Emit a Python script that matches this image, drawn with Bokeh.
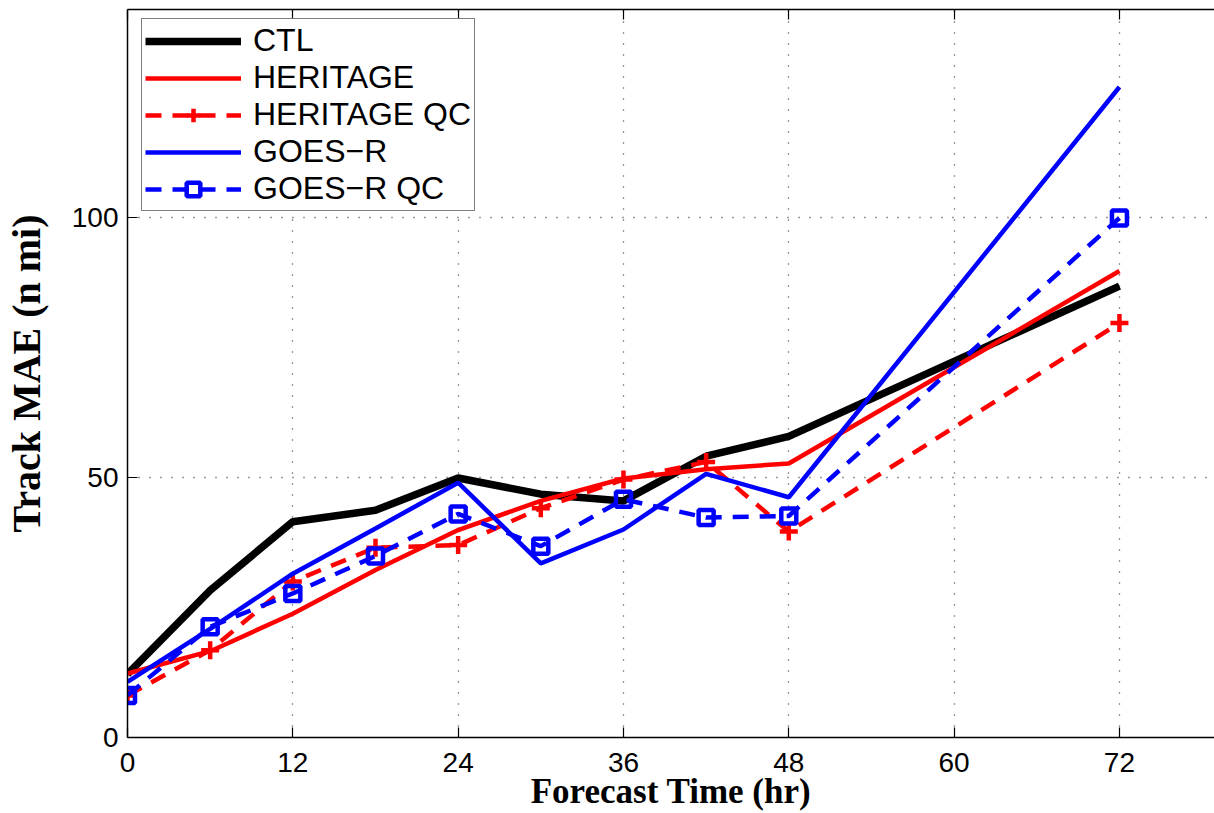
import bokeh.plotting as bk
from bokeh.models import Range1d, Legend, LegendItem, LinearAxis, FixedTicker
from bokeh.embed import file_html
from bokeh.resources import INLINE

#- forecast hours and track errors (n mi)
hours = [0, 6, 12, 18, 24, 30, 36, 42, 48, 72]
ctl = [12.2, 28.3, 41.5, 43.7, 49.9, 46.8, 45.5, 54.1, 57.9, 86.8]
heritage = [12.3, 16.6, 23.8, 32.2, 39.9, 45.5, 49.8, 51.6, 52.7, 89.7]
heritage_qc = [8.1, 16.8, 30.0, 36.5, 37.0, 44.1, 49.6, 53.0, 39.6, 79.7]
goesr = [10.7, 20.9, 31.5, 40.2, 49.0, 33.5, 40.0, 50.7, 46.2, 125.1]
goesr_qc = [8.1, 21.3, 27.7, 34.9, 43.0, 36.8, 45.8, 42.3, 42.6, 99.9]

x_ticks = [0, 12, 24, 36, 48, 60, 72]
y_ticks = [0, 50, 100]

sans = "Liberation Sans"
serif = "Liberation Serif"

p = bk.figure(width=1214, height=813, output_backend="svg", toolbar_location=None,
              x_range=Range1d(0, 78.9), y_range=Range1d(0, 140),
              min_border_left=126, min_border_right=0, min_border_top=9,
              min_border_bottom=76)
p.outline_line_color = None
p.background_fill_color = "white"

#- axes, MATLAB style: ticks pointing in
for ax in (p.xaxis[0], p.yaxis[0]):
    ax.major_tick_in = 10
    ax.major_tick_out = 0
    ax.minor_tick_line_color = None
    ax.axis_line_width = 1.5
    ax.major_tick_line_width = 1.2
    ax.major_label_text_font = sans
    ax.major_label_text_font_size = "28px"
    ax.major_label_text_color = "black"
    ax.axis_label_text_font = serif
    ax.axis_label_text_font_style = "bold"
    ax.axis_label_text_color = "black"

p.xaxis.ticker = FixedTicker(ticks=x_ticks)
p.yaxis.ticker = FixedTicker(ticks=y_ticks)
p.xaxis.major_label_standoff = 15
p.yaxis.major_label_standoff = 9
p.xaxis.axis_label = "Forecast Time (hr)"
p.yaxis.axis_label = "Track MAE (n mi)"
p.xaxis.axis_label_text_font_size = "35px"
p.yaxis.axis_label_text_font_size = "40px"
p.xaxis.axis_label_standoff = -3
p.yaxis.axis_label_standoff = 20

#- top border with ticks, no labels
top_axis = LinearAxis(ticker=FixedTicker(ticks=x_ticks), major_tick_in=10, major_tick_out=0,
                      minor_tick_line_color=None, major_label_standoff=0,
                      major_label_overrides={t: "" for t in x_ticks},
                      axis_line_width=1.5, major_tick_line_width=1.2)
p.add_layout(top_axis, "above")

p.xgrid.ticker = FixedTicker(ticks=x_ticks)
p.ygrid.ticker = FixedTicker(ticks=y_ticks)
p.grid.grid_line_color = "#333333"
p.grid.grid_line_dash = "1 10"
p.grid.grid_line_width = 1.3

#- series
r_ctl = p.line(hours, ctl, line_color="black", line_width=7.5)
r_her = p.line(hours, heritage, line_color="red", line_width=4.5)
r_herqc = p.line(hours, heritage_qc, line_color="red", line_width=4.5, line_dash="16 11")
m_herqc = p.scatter(hours, heritage_qc, marker="cross", size=18, line_color="red", line_width=4.5)
r_goes = p.line(hours, goesr, line_color="blue", line_width=4.5)
r_goesqc = p.line(hours, goesr_qc, line_color="blue", line_width=4.5, line_dash="16 11")
m_goesqc = p.scatter(hours, goesr_qc, marker="square", size=15, line_color="blue",
                     fill_color=None, line_width=4.5)

legend = Legend(items=[
    LegendItem(label="CTL", renderers=[r_ctl]),
    LegendItem(label="HERITAGE", renderers=[r_her]),
    LegendItem(label="HERITAGE QC", renderers=[r_herqc, m_herqc]),
    LegendItem(label="GOES\u2212R", renderers=[r_goes]),
    LegendItem(label="GOES\u2212R QC", renderers=[r_goesqc, m_goesqc]),
], location=(14, 526))
legend.label_text_font = sans
legend.label_text_font_size = "32px"
legend.label_text_color = "black"
legend.label_standoff = 12
legend.glyph_width = 96
legend.glyph_height = 34
legend.label_height = 34
legend.spacing = 0
legend.padding = 3
legend.margin = 0
legend.border_line_color = "black"
legend.border_line_width = 1.5
legend.background_fill_alpha = 1.0
p.add_layout(legend)

open("out.html", "w").write(file_html(p, INLINE))
